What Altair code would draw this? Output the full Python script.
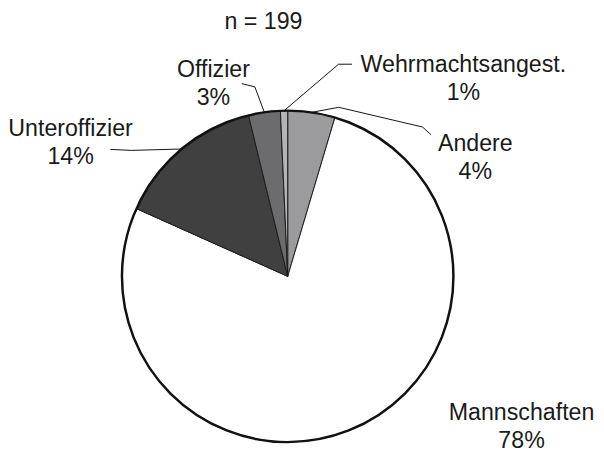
import altair as alt
import pandas as pd
import numpy as np

# ---- data ----
categories = ["Andere", "Mannschaften", "Unteroffizier", "Offizier", "Wehrmachtsangest."]
shares = [4.6, 77.1, 14.5, 3.1, 0.7]
pct_labels = ["4%", "78%", "14%", "3%", "1%"]  # printed labels
sample_note = "n = 199"

# ---- styling ----
colors = ["#9b9b9d", "#ffffff", "#404040", "#6c6c6e", "#b4b4b4"]
FONT = "Liberation Sans"
FS = 23.5

# ---- layout (pie-radius units, pie centre = 0,0) ----
W, H = 596, 444
R_PX = 168
CX, CY = 283.5, 269
label_u = [1.132, 1.411, -1.310, -0.448, 1.060]
label_v = [0.756, -0.869, 0.845, 1.202, 1.232]
note_u, note_v = -0.146, 1.490
leader_bends = {
    "Andere": [(0.308, 1.020), (0.814, 0.901), (0.864, 0.855)],
    "Unteroffizier": [(-0.942, 0.760), (-1.070, 0.766)],
    "Offizier": [(-0.198, 1.143), (-0.277, 1.163)],
    "Wehrmachtsangest.": [(0.307, 1.280), (0.388, 1.280)],
}

x_dom = [-CX / R_PX, (W - CX) / R_PX]
y_dom = [-(H - CY) / R_PX, CY / R_PX]
xs = alt.Scale(domain=x_dom, nice=False, zero=False)
ys = alt.Scale(domain=y_dom, nice=False, zero=False)

df = pd.DataFrame({
    "category": categories,
    "share": shares,
    "idx": list(range(len(categories))),
    "label": [c + "\n" + p for c, p in zip(categories, pct_labels)],
    "u": label_u,
    "v": label_v,
})

# leader lines: start on the rim at each slice's mid angle
tot = sum(shares)
cum = np.cumsum([0] + shares[:-1])
rows = []
for i, c in enumerate(categories):
    if c not in leader_bends:
        continue
    mid = (cum[i] + shares[i] / 2) / tot * 2 * np.pi
    pts = [(float(np.sin(mid)), float(np.cos(mid)))] + leader_bends[c]
    for s, (u, v) in enumerate(pts):
        rows.append({"category": c, "seq": s, "u": u, "v": v})
lines_df = pd.DataFrame(rows)

arcs = alt.Chart(df).mark_arc(
    outerRadius=R_PX, innerRadius=0, stroke="#1a1a1a", strokeWidth=1
).encode(
    theta=alt.Theta("share:Q", stack=True),
    order=alt.Order("idx:Q"),
    color=alt.Color("category:N", scale=alt.Scale(domain=categories, range=colors), legend=None),
    x=alt.value(CX),
    y=alt.value(CY),
)

rim = alt.Chart(df).mark_arc(
    outerRadius=R_PX, innerRadius=0, fillOpacity=0, stroke="#111111", strokeWidth=2.5
).encode(
    theta=alt.Theta("sum(share):Q"),
    x=alt.value(CX),
    y=alt.value(CY),
)

leaders = alt.Chart(lines_df).mark_line(color="#111111", strokeWidth=1).encode(
    x=alt.X("u:Q", scale=xs, axis=None),
    y=alt.Y("v:Q", scale=ys, axis=None),
    detail="category:N",
    order=alt.Order("seq:Q"),
)

texts = alt.Chart(df).mark_text(
    font=FONT, fontSize=FS, lineBreak="\n", lineHeight=28,
    align="center", baseline="alphabetic", color="#1a1a1a"
).encode(
    x=alt.X("u:Q", scale=xs, axis=None),
    y=alt.Y("v:Q", scale=ys, axis=None),
    text="label:N",
)

note = alt.Chart(pd.DataFrame({"t": [sample_note], "u": [note_u], "v": [note_v]})).mark_text(
    font=FONT, fontSize=FS, align="center", baseline="alphabetic", color="#1a1a1a"
).encode(
    x=alt.X("u:Q", scale=xs, axis=None),
    y=alt.Y("v:Q", scale=ys, axis=None),
    text="t:N",
)

chart = alt.layer(arcs, rim, leaders, texts, note).properties(
    width=W, height=H, padding=0, autosize="none", background="white"
).configure_view(stroke=None)

chart.save("out.html", embed_options={"renderer": "svg", "actions": False})
